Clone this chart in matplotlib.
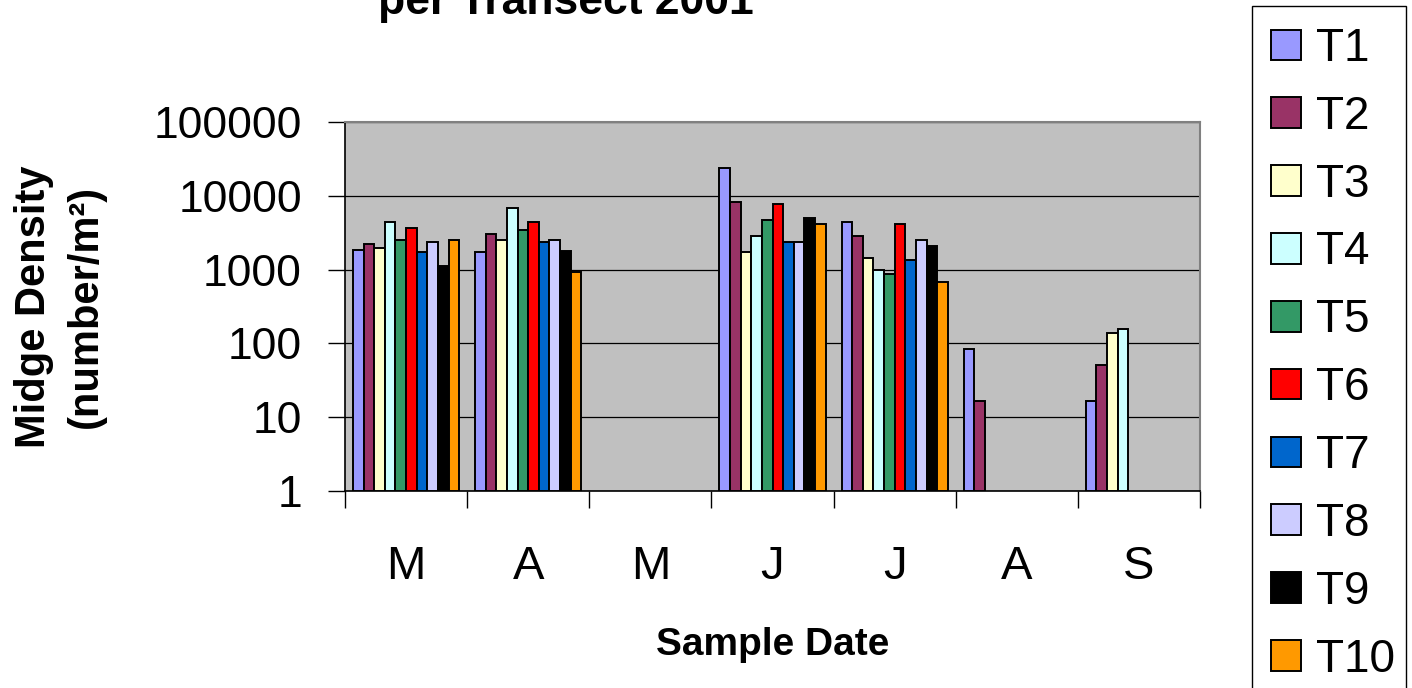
import numpy as np
import matplotlib
matplotlib.use("Agg")
import matplotlib.pyplot as plt
from matplotlib.patches import Rectangle
from matplotlib.ticker import FixedLocator, NullLocator, FixedFormatter

plt.rcParams['font.family'] = ['Liberation Sans', 'DejaVu Sans']

months = ["M", "A", "M", "J", "J", "A", "S"]
transects = ["T1", "T2", "T3", "T4", "T5", "T6", "T7", "T8", "T9", "T10"]
nan = np.nan
T1 = [1845, 1733, nan, 23900, 4400, 84, 16.6]
T2 = [2200, 3034, nan, 8210, 2820, 16.6, 51]
T3 = [1963, 2518, nan, 1733, 1438, nan, 139]
T4 = [4400, 6810, nan, 2820, 989, nan, 155]
T5 = [2518, 3436, nan, 4690, 865, nan, nan]
T6 = [3655, 4400, nan, 7710, 4185, nan, nan]
T7 = [1715, 2365, nan, 2365, 1352, nan, nan]
T8 = [2365, 2518, nan, 2365, 2518, nan, nan]
T9 = [1132, 1770, nan, 5045, 2110, nan, nan]
T10 = [2518, 930, nan, 4140, 674, nan, nan]
series = [T1, T2, T3, T4, T5, T6, T7, T8, T9, T10]
colors = ["#9999FF", "#993366", "#FFFFCC", "#CCFFFF", "#339966",
          "#FF0000", "#0066CC", "#CCCCFF", "#000000", "#FF9900"]
yticks = [1, 10, 100, 1000, 10000, 100000]

W, H = 1412, 688
fig = plt.figure(figsize=(W / 100, H / 100), dpi=100)
ax = fig.add_axes([345 / W, 1 - 491 / H, 855 / W, 369 / H])
ax.set_facecolor("#C0C0C0")
ax.set_yscale("log")
ax.set_ylim(1, 100000)
ax.set_xlim(-0.5, len(months) - 0.5)
ax.set_axisbelow(True)
ax.yaxis.grid(True, which="major", color="black", linewidth=0.9)

bw = 0.087
x = np.arange(len(months))
for i, (vals, c, name) in enumerate(zip(series, colors, transects)):
    v = np.array(vals, dtype=float)
    m = ~np.isnan(v)
    xs = x + (i - 4.5) * bw
    ax.bar(xs[m], v[m] - 1, bottom=1, width=bw, color=c, edgecolor="black",
           linewidth=1.4, label=name, zorder=3)

ax.yaxis.set_major_locator(FixedLocator(yticks))
ax.yaxis.set_major_formatter(FixedFormatter([str(t) for t in yticks]))
ax.yaxis.set_minor_locator(NullLocator())
ax.tick_params(axis="y", which="major", direction="out", length=12, width=1,
               labelsize=32, pad=19, color="black")

ax.set_xticks(x)
ax.set_xticklabels(months)
ax.set_xticks(np.arange(-0.5, len(months)), minor=True)
ax.tick_params(axis="x", which="major", length=0, labelsize=34, pad=39)
ax.tick_params(axis="x", which="minor", direction="out", length=12, width=1, color="black")

for s in ["left", "bottom"]:
    ax.spines[s].set_color("black")
    ax.spines[s].set_linewidth(1.2)
for s in ["top", "right"]:
    ax.spines[s].set_color("#808080")
    ax.spines[s].set_linewidth(1.5)

ax.set_xlabel("Sample Date", fontsize=28, fontweight="bold")
ax.xaxis.label.set_va("baseline")
ax.xaxis.set_label_coords(0.5, (491 - 655) / 369)

ax.set_ylabel("Midge Density\n(number/m²)", fontsize=30, fontweight="bold",
              linespacing=1.4)
ax.yaxis.label.set_va("center")
ax.yaxis.set_label_coords((60 - 345) / 855, 0.5)

fig.text(566 / W, 1 - 14 / H, "per Transect 2001", ha="center", va="baseline",
         fontsize=32, fontweight="bold")

# legend frame (extends past the bottom edge as in the reference)
fig.patches.append(Rectangle((1252 / W, -0.05), (1406 - 1252) / W, 1.05 - 6 / H,
                             transform=fig.transFigure, facecolor="white",
                             edgecolor="black", linewidth=1.0, zorder=0))

handles, labels = ax.get_legend_handles_labels()
leg = fig.legend(handles, labels, loc="upper left",
                 bbox_to_anchor=(1271 / W, 1 - 27 / H), borderaxespad=0,
                 fontsize=33, frameon=False,
                 handlelength=0.65, handleheight=0.65, handletextpad=0.33,
                 labelspacing=0.52, borderpad=0.0)

fig.savefig("out.png", dpi=100, facecolor="white")
